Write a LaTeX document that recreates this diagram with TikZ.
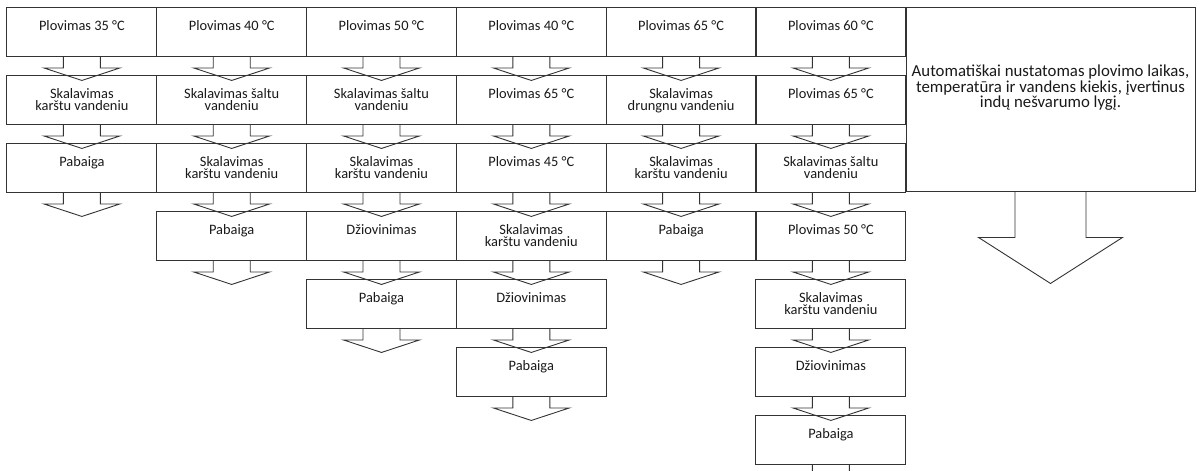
\documentclass[tikz,border=0pt]{standalone}
\usepackage{fontspec}
\setmainfont{Carlito}
\usetikzlibrary{calc}
\tikzset{
  cell/.style={draw=black!80, line width=0.9pt, minimum width=150pt, minimum height=49pt, inner sep=0pt},
  bigcell/.style={draw=black!80, line width=0.9pt, minimum width=289pt, minimum height=184pt, inner sep=0pt},
  lbl/.style={font=\fontsize{14.4}{12.3}\selectfont, align=center, inner sep=0pt, text=black!90},
  biglbl/.style={font=\fontsize{16.8}{14}\selectfont, align=center, inner sep=0pt, text=black!90},
  blockarrow/.style={draw=black!80, line width=0.9pt, line join=miter}
}
% #1 node, #2 stem half, #3 wing half, #4 stem length, #5 tip depth
\newcommand\barrow[5]{%
  \draw[blockarrow] ($(#1.south)+(-#2,0)$) -- ($(#1.south)+(-#2,-#4)$) -- ($(#1.south)+(-#3,-#4)$)
    -- ($(#1.south)+(0,-#5)$) -- ($(#1.south)+(#3,-#4)$) -- ($(#1.south)+(#2,-#4)$) -- ($(#1.south)+(#2,0)$);}
% #1 name, #2 column, #3 row, #4 baseline offset of last line, #5 text
\newcommand\stepcell[5]{%
  \node[cell] (#1) at ({81.9+149.8*(#2-1)},{-(31.5+68*(#3-1))}) {};
  \node[lbl, anchor=base] (#1t) at ($(#1.north)+(0,-#4)$) {#5};
  \barrow{#1}{18.5}{38}{11.5}{24}}
\newcommand\one{24}
\newcommand\two{36.3}
\begin{document}
\begin{tikzpicture}[x=1pt,y=1pt]
\useasboundingbox (0,0) rectangle (1200,-471);
\clip (0,0) rectangle (1200,-471);
% column 1
\stepcell{a1}{1}{1}{\one}{Plovimas 35 °C}
\stepcell{a2}{1}{2}{\two}{Skalavimas\\karštu vandeniu}
\stepcell{a3}{1}{3}{\one}{Pabaiga}
% column 2
\stepcell{b1}{2}{1}{\one}{Plovimas 40 °C}
\stepcell{b2}{2}{2}{\two}{Skalavimas šaltu\\vandeniu}
\stepcell{b3}{2}{3}{\two}{Skalavimas\\karštu vandeniu}
\stepcell{b4}{2}{4}{\one}{Pabaiga}
% column 3
\stepcell{c1}{3}{1}{\one}{Plovimas 50 °C}
\stepcell{c2}{3}{2}{\two}{Skalavimas šaltu\\vandeniu}
\stepcell{c3}{3}{3}{\two}{Skalavimas\\karštu vandeniu}
\stepcell{c4}{3}{4}{\one}{Džiovinimas}
\stepcell{c5}{3}{5}{\one}{Pabaiga}
% column 4
\stepcell{d1}{4}{1}{\one}{Plovimas 40 °C}
\stepcell{d2}{4}{2}{\one}{Plovimas 65 °C}
\stepcell{d3}{4}{3}{\one}{Plovimas 45 °C}
\stepcell{d4}{4}{4}{\two}{Skalavimas\\karštu vandeniu}
\stepcell{d5}{4}{5}{\one}{Džiovinimas}
\stepcell{d6}{4}{6}{\one}{Pabaiga}
% column 5
\stepcell{e1}{5}{1}{\one}{Plovimas 65 °C}
\stepcell{e2}{5}{2}{\two}{Skalavimas\\drungnu vandeniu}
\stepcell{e3}{5}{3}{\two}{Skalavimas\\karštu vandeniu}
\stepcell{e4}{5}{4}{\one}{Pabaiga}
% column 6
\stepcell{f1}{6}{1}{\one}{Plovimas 60 °C}
\stepcell{f2}{6}{2}{\one}{Plovimas 65 °C}
\stepcell{f3}{6}{3}{\two}{Skalavimas šaltu\\vandeniu}
\stepcell{f4}{6}{4}{\one}{Plovimas 50 °C}
\stepcell{f5}{6}{5}{\two}{Skalavimas\\karštu vandeniu}
\stepcell{f6}{6}{6}{\one}{Džiovinimas}
\stepcell{f7}{6}{7}{\one}{Pabaiga}
% column 7
\node[bigcell] (g1) at (1050.5,-99) {};
\node[biglbl, anchor=base] (g1t) at (1050.5,-107.7) {Automatiškai nustatomas plovimo laikas,\\temperatūra ir vandens kiekis, įvertinus\\indų nešvarumo lygį.};
\barrow{g1}{35.5}{72}{46}{92}
\end{tikzpicture}
\end{document}
